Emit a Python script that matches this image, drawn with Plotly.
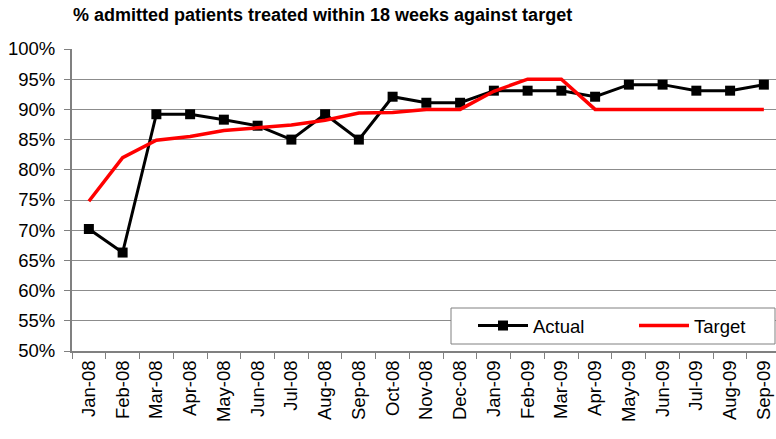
import plotly.graph_objects as go

months = ["Jan-08", "Feb-08", "Mar-08", "Apr-08", "May-08", "Jun-08", "Jul-08",
          "Aug-08", "Sep-08", "Oct-08", "Nov-08", "Dec-08", "Jan-09", "Feb-09",
          "Mar-09", "Apr-09", "May-09", "Jun-09", "Jul-09", "Aug-09", "Sep-09"]
actual = [70.2, 66.3, 89.2, 89.2, 88.3, 87.3, 85.0, 89.2, 85.0, 92.1, 91.1,
          91.1, 93.1, 93.1, 93.1, 92.1, 94.1, 94.1, 93.1, 93.1, 94.1]
target = [74.8, 82.0, 84.9, 85.5, 86.5, 86.9, 87.4, 88.2, 89.4, 89.5, 90.0,
          90.0, 93.0, 95.0, 95.0, 90.0, 90.0, 90.0, 90.0, 90.0, 90.0]
y_ticks = [50, 55, 60, 65, 70, 75, 80, 85, 90, 95, 100]

FONT = "Liberation Sans, Arial, sans-serif"
L, T, PW, PH = 72, 49, 704, 302


def px(x):
    return (x - L) / PW


def py(y):
    return (T + PH - y) / PH


fig = go.Figure()
fig.add_trace(go.Scatter(
    x=months, y=actual, name="Actual", mode="lines+markers",
    line=dict(color="black", width=3),
    marker=dict(symbol="square", size=10, color="black"),
    cliponaxis=False, legend="legend",
))
fig.add_trace(go.Scatter(
    x=months, y=target, name="Target", mode="lines",
    line=dict(color="#ff0000", width=3.5),
    cliponaxis=False, legend="legend2",
))

leg_common = dict(orientation="h", bgcolor="rgba(0,0,0,0)", borderwidth=0,
                  font=dict(family=FONT, size=18.5, color="black"),
                  itemwidth=50, yanchor="middle", y=py(326), xanchor="left")

fig.update_layout(
    width=776, height=439,
    margin=dict(l=L, r=0, t=T, b=439 - T - PH),
    paper_bgcolor="white", plot_bgcolor="white",
    font=dict(family=FONT, size=18.5, color="black"),
    title=dict(text="<b>% admitted patients treated within 18 weeks against target</b>",
               x=73/776, xanchor="left", y=1 - 14.5/439, yanchor="middle",
               xref="container", yref="container",
               font=dict(family=FONT, size=18, color="black")),
    showlegend=True,
    legend=dict(x=px(473), **leg_common),
    legend2=dict(x=px(634), **leg_common),
    shapes=[dict(type="rect", xref="paper", yref="paper",
                 x0=px(451), x1=px(775), y0=py(344), y1=py(308),
                 fillcolor="white", line=dict(color="#808080", width=1),
                 layer="above")],
    xaxis=dict(
        type="category", categoryorder="array", categoryarray=months,
        range=[-0.5, 20.36], tickangle=-90,
        tickson="boundaries", ticks="outside", ticklen=6, tickcolor="#808080",
        showline=True, linecolor="#808080", linewidth=2,
        showgrid=False, zeroline=False,
        tickfont=dict(family=FONT, size=18.5, color="black"),
    ),
    yaxis=dict(
        range=[50, 100], tickvals=y_ticks,
        ticktext=[f"{v}%" for v in y_ticks],
        ticks="outside", ticklen=6, tickcolor="#808080",
        ticklabelstandoff=5,
        showline=True, linecolor="#808080", linewidth=2,
        showgrid=True, gridcolor="#8c8c8c", gridwidth=1,
        zeroline=False,
        tickfont=dict(family=FONT, size=18.5, color="black"),
    ),
)

fig.write_html("out.html",
               config={"displayModeBar": False},
               post_script="document.body.style.margin='0';document.body.style.overflow='hidden';")
